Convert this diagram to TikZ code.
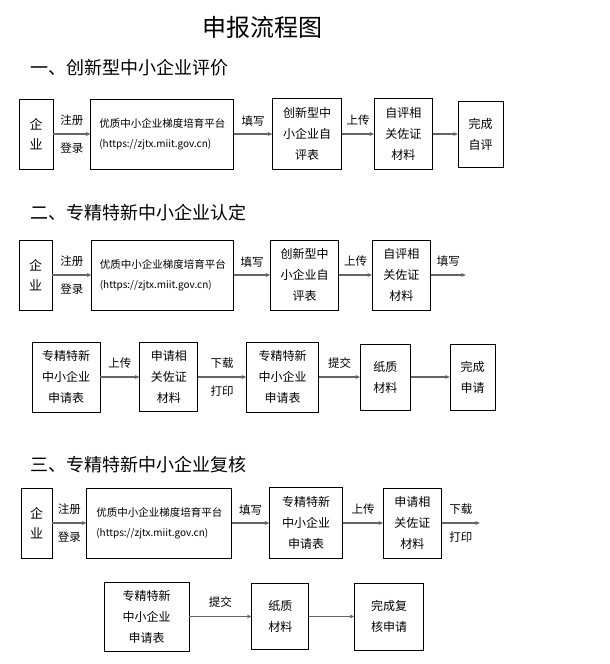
\documentclass[tikz,border=0pt]{standalone}
\usepackage{fontspec}
\setmainfont{Noto Sans CJK SC}
\usetikzlibrary{arrows.meta,positioning}

\begin{document}
\begin{tikzpicture}[
    x=1pt, y=-1pt,
    every node/.style={font=\fontsize{12}{21}\selectfont},
    boxsize/.style 2 args={minimum width=#1pt, minimum height=#2pt},
    flowbox/.style={draw, line width=0.8pt, fill=white, align=center, inner sep=0pt},
    platbox/.style={flowbox, align=left, font=\fontsize{10.5}{20}\selectfont, boxsize={143}{70}},
    firmbox/.style={flowbox, font=\fontsize{13}{20}\selectfont},
    heading/.style={anchor=west, font=\fontsize{18}{22}\selectfont},
    lbl/.style={inner sep=0pt, font=\fontsize{11.5}{14}\selectfont},
    arrow/.style={-{Stealth[length=4.5pt,width=4pt]}, line width=1.4pt, draw=black!60}
]
\useasboundingbox (0,0) rectangle (610,664);

\node[font=\fontsize{24}{28}\selectfont] (title) at (262,27) {申报流程图};

% part one
\node[heading] (h1) at (27,68) {一、创新型中小企业评价};
\node[firmbox, boxsize={34}{70}] (qy1) at (36,134) {企\\业};
\node[platbox, right=37pt of qy1] (plat1) {优质中小企业梯度培育平台\\{\fontsize{10}{20}\selectfont(https://zjtx.miit.gov.cn)}};
\node[flowbox, boxsize={69}{71}, right=38pt of plat1] (form1) {创新型中\\小企业自\\评表};
\node[flowbox, boxsize={58}{71}, right=32pt of form1] (mat1) {自评相\\关佐证\\材料};
\node[flowbox, boxsize={45}{66}, right=25pt of mat1] (done1) {完成\\自评};

\draw[arrow] (qy1) -- node[lbl, above=8pt] {注册} node[lbl, below=8pt] {登录} (plat1);
\draw[arrow] (plat1) -- node[lbl, above=7pt] {填写} (form1);
\draw[arrow] (form1) -- node[lbl, above=8pt] {上传} (mat1);
\draw[arrow] (mat1) -- (done1);

% part two
\node[heading] (h2) at (27,213) {二、专精特新中小企业认定};
\node[firmbox, boxsize={33}{70}] (qy2) at (35.5,275) {企\\业};
\node[platbox, boxsize={142}{70}, right=39pt of qy2] (plat2) {优质中小企业梯度培育平台\\{\fontsize{10}{20}\selectfont(https://zjtx.miit.gov.cn)}};
\node[flowbox, boxsize={68}{70}, right=36pt of plat2] (form2) {创新型中\\小企业自\\评表};
\node[flowbox, boxsize={58}{70}, right=33pt of form2] (mat2) {自评相\\关佐证\\材料};
\coordinate[right=35pt of mat2] (end2);

\draw[arrow] (qy2) -- node[lbl, above=8pt] {注册} node[lbl, below=8pt] {登录} (plat2);
\draw[arrow] (plat2) -- node[lbl, above=7pt] {填写} (form2);
\draw[arrow] (form2) -- node[lbl, above=8pt] {上传} (mat2);
\draw[arrow] (mat2) -- node[lbl, above=8pt] {填写} (end2);

\node[flowbox, boxsize={68}{70}] (app2) at (66,377) {专精特新\\中小企业\\申请表};
\node[flowbox, boxsize={58}{69}, right=39pt of app2] (mat2b) {申请相\\关佐证\\材料};
\node[flowbox, boxsize={72}{70}, right=48pt of mat2b] (app2b) {专精特新\\中小企业\\申请表};
\node[flowbox, boxsize={50}{66}, right=41pt of app2b] (paper2) {纸质\\材料};
\node[flowbox, boxsize={45}{66}, right=39pt of paper2] (done2) {完成\\申请};

\draw[arrow] (app2) -- node[lbl, above=8pt] {上传} (mat2b);
\draw[arrow] (mat2b) -- node[lbl, above=8pt] {下载} node[lbl, below=8pt] {打印} (app2b);
\draw[arrow] (app2b) -- node[lbl, above=8pt] {提交} (paper2);
\draw[arrow] (paper2) -- (done2);

% part three
\node[heading] (h3) at (27,465) {三、专精特新中小企业复核};
\node[firmbox, boxsize={31}{70}] (qy3) at (36.5,523) {企\\业};
\node[platbox, boxsize={145}{70}, right=34pt of qy3] (plat3) {优质中小企业梯度培育平台\\{\fontsize{10}{20}\selectfont(https://zjtx.miit.gov.cn)}};
\node[flowbox, boxsize={73}{71}, right=37pt of plat3] (app3) {专精特新\\中小企业\\申请表};
\node[flowbox, boxsize={58}{70}, right=40pt of app3] (mat3) {申请相\\关佐证\\材料};
\coordinate[right=38pt of mat3] (end3);

\draw[arrow] (qy3) -- node[lbl, above=8pt] {注册} node[lbl, below=8pt] {登录} (plat3);
\draw[arrow] (plat3) -- node[lbl, above=7pt] {填写} (app3);
\draw[arrow] (app3) -- node[lbl, above=8pt] {上传} (mat3);
\draw[arrow] (mat3) -- node[lbl, above=8pt] {下载} node[lbl, below=8pt] {打印} (end3);

\node[flowbox, boxsize={85}{69}] (app3b) at (146.5,616.5) {专精特新\\中小企业\\申请表};
\node[flowbox, boxsize={57}{66}, right=62pt of app3b] (paper3) {纸质\\材料};
\node[flowbox, boxsize={69}{67}, right=45pt of paper3] (done3) {完成复\\核申请};

\draw[arrow] (app3b) -- node[lbl, above=8pt] {提交} (paper3);
\draw[arrow] (paper3) -- (done3);
\end{tikzpicture}
\end{document}
